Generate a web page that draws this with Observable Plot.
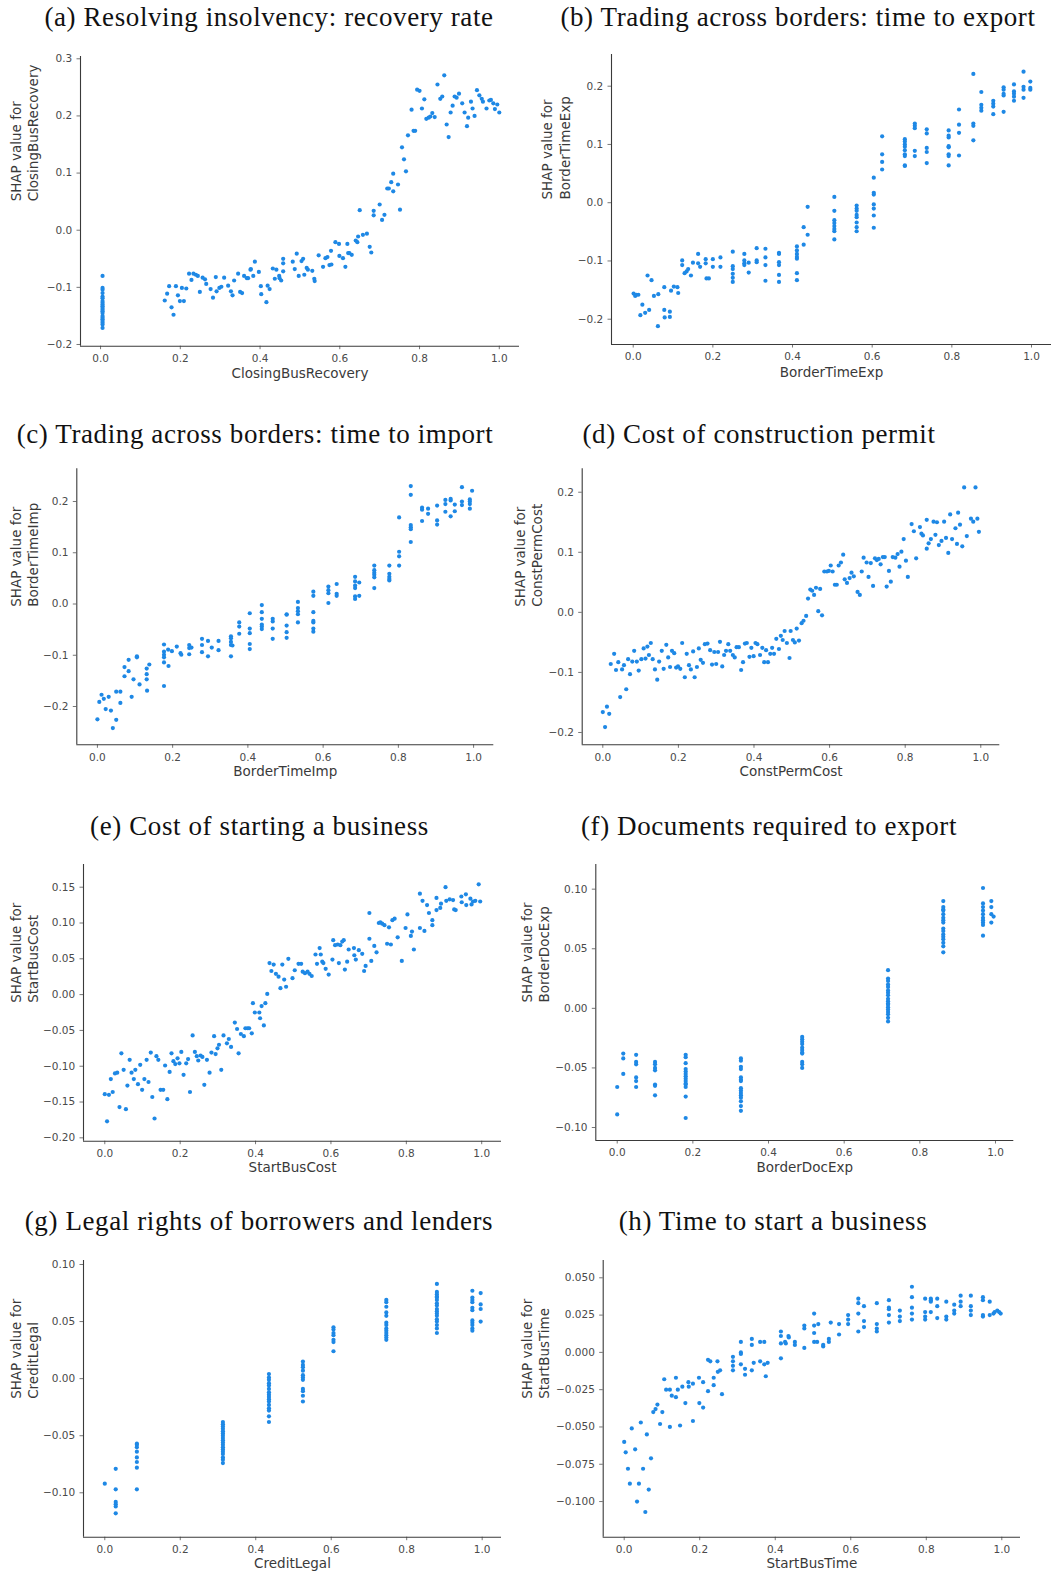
<!DOCTYPE html>
<html><head><meta charset="utf-8">
<script src="https://cdn.jsdelivr.net/npm/d3@7"></script>
<script src="https://cdn.jsdelivr.net/npm/@observablehq/plot@0.6"></script>
<style>
html,body{margin:0;padding:0;background:#fff;}
#page{position:relative;width:1062px;height:1573px;overflow:hidden;background:#fff;}
#page svg{position:absolute;}
</style></head><body><div id="page"></div>
<script>
// ---------- DATA ----------
const titles = ["(a) Resolving insolvency: recovery rate","(b) Trading across borders: time to export","(c) Trading across borders: time to import","(d) Cost of construction permit","(e) Cost of starting a business","(f) Documents required to export","(g) Legal rights of borrowers and lenders","(h) Time to start a business"];
const features = ["ClosingBusRecovery","BorderTimeExp","BorderTimeImp","ConstPermCost","StartBusCost","BorderDocExp","CreditLegal","StartBusTime"];
const xTicks = [0, 0.2, 0.4, 0.6, 0.8, 1.0];
const yTicks1 = [-0.2, -0.1, 0, 0.1, 0.2, 0.3];
const yTicks2 = [-0.2, -0.1, 0, 0.1, 0.2];
const yTicksE = [-0.2, -0.15, -0.1, -0.05, 0, 0.05, 0.1, 0.15];
const yTicksFG = [-0.1, -0.05, 0, 0.05, 0.1];
const yTicksH = [-0.1, -0.075, -0.05, -0.025, 0, 0.025, 0.05];

const ptsA = [[0.005,-0.080],[0.005,-0.101],[0.005,-0.104],[0.005,-0.110],[0.005,-0.116],[0.005,-0.119],[0.005,-0.124],[0.005,-0.127],[0.005,-0.130],[0.005,-0.133],[0.005,-0.136],[0.005,-0.139],[0.005,-0.142],[0.005,-0.145],[0.005,-0.150],[0.005,-0.153],[0.005,-0.156],[0.005,-0.159],[0.005,-0.162],[0.005,-0.165],[0.005,-0.171],
[0.161,-0.123],[0.167,-0.111],[0.172,-0.098],[0.178,-0.135],[0.183,-0.148],[0.189,-0.098],[0.194,-0.114],[0.199,-0.124],[0.204,-0.101],[0.209,-0.124],[0.215,-0.102],[0.222,-0.076],[0.228,-0.087],[0.233,-0.076],[0.239,-0.078],[0.244,-0.080],[0.249,-0.108],[0.256,-0.083],[0.262,-0.086],[0.265,-0.094],[0.276,-0.103],[0.282,-0.118],[0.289,-0.082],[0.291,-0.107],[0.298,-0.101],[0.303,-0.099],[0.310,-0.083],[0.320,-0.097],[0.327,-0.107],[0.331,-0.114],[0.335,-0.088],[0.345,-0.076],[0.350,-0.108],[0.355,-0.110],[0.360,-0.080],[0.367,-0.084],[0.370,-0.084],[0.376,-0.069],[0.377,-0.068],[0.383,-0.080],[0.387,-0.055],[0.397,-0.073],[0.402,-0.098],[0.403,-0.112],[0.416,-0.126],[0.419,-0.097],[0.424,-0.103],[0.432,-0.067],[0.437,-0.085],[0.441,-0.069],[0.448,-0.080],[0.449,-0.084],[0.453,-0.088],[0.458,-0.050],[0.458,-0.058],[0.458,-0.072],[0.482,-0.055],[0.487,-0.068],[0.492,-0.041],[0.497,-0.080],[0.504,-0.054],[0.508,-0.050],[0.511,-0.078],[0.517,-0.066],[0.520,-0.069],[0.531,-0.071],[0.536,-0.085],[0.537,-0.089],[0.547,-0.044],[0.558,-0.064],[0.564,-0.049],[0.569,-0.047],[0.574,-0.061],[0.578,-0.036],[0.579,-0.060],[0.589,-0.021],[0.598,-0.024],[0.599,-0.045],[0.608,-0.049],[0.614,-0.064],[0.619,-0.024],[0.621,-0.040],[0.624,-0.040],[0.630,-0.043],[0.640,-0.018],[0.644,-0.021],[0.646,-0.011],[0.650,0.035],[0.658,-0.008],[0.668,-0.006],[0.675,-0.029],[0.679,-0.039],[0.685,0.034],[0.685,0.026],[0.700,0.045],[0.706,0.018],[0.712,0.027],[0.719,0.073],[0.723,0.073],[0.729,0.084],[0.734,0.099],[0.734,0.068],[0.746,0.080],[0.751,0.036],[0.756,0.145],[0.761,0.124],[0.766,0.103],[0.771,0.166],[0.780,0.211],[0.785,0.174],[0.789,0.174],[0.794,0.246],[0.800,0.244],[0.806,0.213],[0.812,0.229],[0.817,0.195],[0.823,0.197],[0.827,0.199],[0.832,0.205],[0.838,0.198],[0.845,0.255],[0.852,0.230],[0.857,0.234],[0.862,0.271],[0.868,0.185],[0.873,0.163],[0.878,0.206],[0.883,0.218],[0.888,0.234],[0.893,0.232],[0.899,0.239],[0.907,0.222],[0.913,0.206],[0.919,0.182],[0.922,0.197],[0.929,0.225],[0.933,0.213],[0.938,0.200],[0.944,0.245],[0.950,0.236],[0.956,0.230],[0.959,0.225],[0.968,0.213],[0.975,0.227],[0.979,0.228],[0.985,0.222],[0.989,0.212],[0.995,0.220],[1.000,0.206]];

const ptsB = [[0.001,-0.156],[0.005,-0.160],[0.008,-0.158],[0.013,-0.158],[0.018,-0.193],[0.023,-0.175],[0.030,-0.189],[0.036,-0.125],[0.040,-0.184],[0.046,-0.133],[0.052,-0.160],[0.062,-0.212],[0.063,-0.157],[0.078,-0.145],[0.078,-0.184],[0.079,-0.197],[0.092,-0.187],[0.092,-0.196],[0.095,-0.151],[0.102,-0.144],[0.111,-0.145],[0.113,-0.155],[0.123,-0.099],[0.123,-0.107],[0.129,-0.121],[0.134,-0.118],[0.138,-0.114],[0.145,-0.125],[0.150,-0.103],[0.163,-0.088],[0.163,-0.104],[0.168,-0.110],[0.182,-0.097],[0.182,-0.104],[0.184,-0.130],[0.190,-0.130],[0.200,-0.097],[0.200,-0.110],[0.219,-0.094],[0.219,-0.110],[0.250,-0.084],[0.250,-0.109],[0.250,-0.114],[0.250,-0.122],[0.250,-0.129],[0.250,-0.136],[0.279,-0.088],[0.279,-0.099],[0.279,-0.104],[0.279,-0.107],[0.290,-0.103],[0.290,-0.120],[0.310,-0.078],[0.310,-0.099],[0.310,-0.102],[0.332,-0.079],[0.332,-0.094],[0.332,-0.107],[0.332,-0.134],[0.366,-0.086],[0.366,-0.088],[0.366,-0.102],[0.366,-0.107],[0.366,-0.124],[0.366,-0.136],[0.411,-0.075],[0.411,-0.082],[0.411,-0.088],[0.411,-0.093],[0.411,-0.096],[0.411,-0.121],[0.411,-0.133],[0.428,-0.042],[0.428,-0.072],[0.438,-0.007],[0.438,-0.055],[0.505,0.010],[0.505,-0.014],[0.505,-0.030],[0.505,-0.035],[0.505,-0.040],[0.505,-0.045],[0.505,-0.049],[0.505,-0.063],[0.561,-0.005],[0.561,-0.010],[0.561,-0.014],[0.561,-0.021],[0.561,-0.025],[0.561,-0.034],[0.561,-0.042],[0.561,-0.049],[0.604,0.043],[0.604,0.017],[0.604,0.014],[0.604,-0.003],[0.604,-0.010],[0.604,-0.022],[0.604,-0.043],[0.625,0.114],[0.625,0.083],[0.625,0.070],[0.625,0.057],[0.682,0.109],[0.682,0.105],[0.682,0.100],[0.682,0.096],[0.682,0.090],[0.682,0.083],[0.682,0.080],[0.682,0.064],[0.682,0.063],[0.707,0.136],[0.707,0.132],[0.707,0.128],[0.707,0.089],[0.707,0.080],[0.737,0.126],[0.737,0.119],[0.737,0.094],[0.737,0.087],[0.737,0.068],[0.792,0.124],[0.792,0.115],[0.792,0.112],[0.792,0.097],[0.792,0.095],[0.792,0.083],[0.792,0.080],[0.792,0.064],[0.818,0.160],[0.818,0.134],[0.818,0.120],[0.818,0.081],[0.854,0.221],[0.854,0.136],[0.854,0.132],[0.854,0.107],[0.874,0.190],[0.874,0.168],[0.874,0.163],[0.874,0.158],[0.904,0.175],[0.904,0.170],[0.904,0.165],[0.904,0.152],[0.930,0.198],[0.930,0.194],[0.930,0.187],[0.930,0.184],[0.930,0.156],[0.956,0.203],[0.956,0.191],[0.956,0.187],[0.956,0.182],[0.956,0.175],[0.980,0.225],[0.980,0.199],[0.980,0.194],[0.980,0.180],[0.997,0.208],[0.997,0.197],[0.997,0.194]];

const ptsC = [[0.000,-0.225],[0.005,-0.191],[0.011,-0.177],[0.017,-0.185],[0.022,-0.205],[0.030,-0.181],[0.036,-0.208],[0.041,-0.242],[0.050,-0.171],[0.050,-0.226],[0.061,-0.171],[0.061,-0.193],[0.072,-0.123],[0.072,-0.141],[0.083,-0.109],[0.083,-0.131],[0.091,-0.181],[0.096,-0.147],[0.105,-0.102],[0.105,-0.104],[0.112,-0.157],[0.131,-0.126],[0.131,-0.137],[0.131,-0.147],[0.132,-0.169],[0.138,-0.118],[0.177,-0.079],[0.177,-0.093],[0.177,-0.099],[0.177,-0.104],[0.177,-0.114],[0.177,-0.160],[0.188,-0.089],[0.189,-0.121],[0.198,-0.092],[0.211,-0.083],[0.221,-0.096],[0.223,-0.099],[0.244,-0.080],[0.244,-0.086],[0.244,-0.098],[0.250,-0.085],[0.278,-0.068],[0.278,-0.080],[0.278,-0.094],[0.294,-0.072],[0.294,-0.102],[0.304,-0.085],[0.322,-0.072],[0.322,-0.090],[0.355,-0.063],[0.355,-0.067],[0.355,-0.074],[0.355,-0.080],[0.355,-0.102],[0.359,-0.081],[0.377,-0.036],[0.377,-0.044],[0.377,-0.058],[0.405,-0.018],[0.405,-0.048],[0.405,-0.057],[0.405,-0.078],[0.405,-0.088],[0.437,-0.002],[0.437,-0.016],[0.437,-0.029],[0.437,-0.040],[0.437,-0.044],[0.437,-0.049],[0.466,-0.029],[0.466,-0.034],[0.466,-0.048],[0.466,-0.068],[0.503,-0.020],[0.503,-0.021],[0.503,-0.042],[0.503,-0.055],[0.503,-0.066],[0.533,0.004],[0.533,-0.008],[0.533,-0.014],[0.533,-0.020],[0.533,-0.036],[0.574,0.024],[0.574,0.016],[0.574,-0.016],[0.574,-0.033],[0.574,-0.036],[0.574,-0.048],[0.574,-0.054],[0.614,0.034],[0.614,0.027],[0.614,0.021],[0.614,0.002],[0.636,0.039],[0.636,0.020],[0.636,0.016],[0.685,0.053],[0.685,0.044],[0.685,0.036],[0.685,0.031],[0.685,0.015],[0.685,0.010],[0.696,0.042],[0.696,0.016],[0.736,0.075],[0.736,0.066],[0.736,0.061],[0.736,0.057],[0.736,0.052],[0.736,0.031],[0.776,0.075],[0.776,0.059],[0.776,0.053],[0.776,0.049],[0.776,0.046],[0.802,0.169],[0.802,0.102],[0.802,0.093],[0.802,0.075],[0.833,0.230],[0.833,0.213],[0.833,0.154],[0.833,0.150],[0.833,0.146],[0.833,0.121],[0.863,0.188],[0.863,0.184],[0.863,0.162],[0.879,0.186],[0.879,0.176],[0.903,0.192],[0.903,0.163],[0.903,0.155],[0.925,0.203],[0.925,0.195],[0.925,0.180],[0.939,0.205],[0.939,0.202],[0.939,0.171],[0.950,0.194],[0.950,0.181],[0.969,0.228],[0.969,0.200],[0.969,0.193],[0.990,0.204],[0.990,0.200],[0.990,0.195],[0.990,0.186],[0.996,0.221]];

const ptsD = [[0.000,-0.166],[0.006,-0.191],[0.011,-0.157],[0.017,-0.169],[0.021,-0.086],[0.030,-0.069],[0.035,-0.096],[0.041,-0.083],[0.046,-0.141],[0.051,-0.095],[0.056,-0.088],[0.062,-0.128],[0.067,-0.078],[0.072,-0.103],[0.078,-0.082],[0.083,-0.064],[0.090,-0.082],[0.095,-0.097],[0.102,-0.078],[0.108,-0.060],[0.113,-0.077],[0.118,-0.057],[0.122,-0.071],[0.127,-0.051],[0.132,-0.078],[0.138,-0.095],[0.144,-0.112],[0.149,-0.082],[0.156,-0.064],[0.161,-0.094],[0.168,-0.054],[0.173,-0.075],[0.178,-0.091],[0.183,-0.064],[0.189,-0.068],[0.194,-0.092],[0.199,-0.090],[0.205,-0.094],[0.210,-0.051],[0.217,-0.108],[0.222,-0.069],[0.228,-0.088],[0.233,-0.095],[0.239,-0.065],[0.243,-0.108],[0.249,-0.091],[0.254,-0.060],[0.259,-0.079],[0.265,-0.084],[0.270,-0.053],[0.277,-0.052],[0.284,-0.063],[0.289,-0.087],[0.295,-0.066],[0.300,-0.086],[0.305,-0.066],[0.310,-0.049],[0.316,-0.090],[0.321,-0.071],[0.326,-0.064],[0.332,-0.053],[0.337,-0.064],[0.344,-0.071],[0.349,-0.075],[0.354,-0.058],[0.360,-0.058],[0.366,-0.096],[0.371,-0.083],[0.376,-0.052],[0.381,-0.051],[0.388,-0.074],[0.393,-0.059],[0.399,-0.073],[0.404,-0.051],[0.409,-0.053],[0.416,-0.071],[0.422,-0.059],[0.427,-0.083],[0.432,-0.063],[0.437,-0.083],[0.443,-0.069],[0.448,-0.059],[0.453,-0.069],[0.459,-0.044],[0.466,-0.061],[0.471,-0.039],[0.476,-0.046],[0.481,-0.031],[0.487,-0.051],[0.494,-0.076],[0.497,-0.031],[0.503,-0.046],[0.508,-0.050],[0.513,-0.027],[0.519,-0.047],[0.526,-0.018],[0.531,-0.014],[0.538,-0.006],[0.543,0.023],[0.549,0.038],[0.554,0.036],[0.559,0.029],[0.564,0.041],[0.570,0.002],[0.575,0.039],[0.580,-0.005],[0.586,0.068],[0.593,0.068],[0.598,0.069],[0.603,0.078],[0.608,0.068],[0.614,0.046],[0.619,0.046],[0.624,0.078],[0.630,0.083],[0.636,0.096],[0.640,0.055],[0.646,0.049],[0.653,0.057],[0.658,0.066],[0.664,0.060],[0.674,0.034],[0.680,0.029],[0.685,0.068],[0.690,0.091],[0.698,0.083],[0.703,0.059],[0.709,0.082],[0.715,0.044],[0.720,0.090],[0.725,0.087],[0.730,0.089],[0.735,0.080],[0.741,0.092],[0.746,0.092],[0.751,0.043],[0.757,0.069],[0.762,0.051],[0.767,0.092],[0.774,0.091],[0.780,0.097],[0.785,0.076],[0.790,0.101],[0.796,0.122],[0.802,0.086],[0.807,0.059],[0.817,0.147],[0.823,0.135],[0.829,0.090],[0.839,0.142],[0.843,0.131],[0.847,0.128],[0.857,0.154],[0.857,0.106],[0.862,0.115],[0.868,0.122],[0.875,0.151],[0.880,0.129],[0.884,0.150],[0.889,0.112],[0.896,0.119],[0.903,0.151],[0.908,0.124],[0.914,0.099],[0.919,0.163],[0.924,0.122],[0.933,0.140],[0.937,0.114],[0.940,0.166],[0.945,0.146],[0.951,0.110],[0.956,0.208],[0.963,0.127],[0.974,0.156],[0.980,0.151],[0.986,0.208],[0.991,0.156],[0.995,0.134]];

const ptsE = [[0.000,-0.139],[0.006,-0.177],[0.011,-0.140],[0.016,-0.118],[0.021,-0.136],[0.027,-0.110],[0.033,-0.109],[0.039,-0.157],[0.044,-0.082],[0.050,-0.105],[0.056,-0.160],[0.060,-0.127],[0.066,-0.091],[0.071,-0.109],[0.077,-0.118],[0.081,-0.105],[0.088,-0.125],[0.094,-0.098],[0.099,-0.133],[0.105,-0.118],[0.111,-0.091],[0.116,-0.122],[0.122,-0.081],[0.126,-0.143],[0.132,-0.173],[0.137,-0.086],[0.142,-0.091],[0.148,-0.133],[0.155,-0.133],[0.160,-0.099],[0.166,-0.146],[0.172,-0.108],[0.177,-0.082],[0.182,-0.093],[0.187,-0.097],[0.193,-0.089],[0.198,-0.096],[0.203,-0.080],[0.209,-0.112],[0.216,-0.096],[0.221,-0.090],[0.226,-0.136],[0.233,-0.057],[0.239,-0.080],[0.244,-0.086],[0.248,-0.092],[0.254,-0.085],[0.259,-0.087],[0.264,-0.126],[0.271,-0.091],[0.278,-0.109],[0.283,-0.081],[0.290,-0.058],[0.294,-0.083],[0.299,-0.075],[0.303,-0.070],[0.309,-0.105],[0.315,-0.057],[0.324,-0.068],[0.329,-0.062],[0.335,-0.073],[0.345,-0.039],[0.351,-0.048],[0.355,-0.082],[0.361,-0.055],[0.369,-0.058],[0.373,-0.047],[0.379,-0.047],[0.383,-0.047],[0.390,-0.054],[0.393,-0.012],[0.398,-0.025],[0.410,-0.025],[0.412,-0.033],[0.416,-0.016],[0.422,-0.043],[0.426,-0.012],[0.431,0.001],[0.437,0.044],[0.442,0.033],[0.448,0.042],[0.454,0.029],[0.461,0.025],[0.466,0.009],[0.471,0.042],[0.476,0.021],[0.481,0.011],[0.487,0.050],[0.498,0.023],[0.504,0.034],[0.514,0.043],[0.521,0.043],[0.525,0.032],[0.531,0.030],[0.538,0.032],[0.543,0.029],[0.549,0.026],[0.559,0.056],[0.563,0.043],[0.570,0.065],[0.573,0.056],[0.577,0.046],[0.580,0.044],[0.586,0.036],[0.594,0.028],[0.604,0.049],[0.606,0.076],[0.611,0.069],[0.618,0.070],[0.621,0.044],[0.625,0.069],[0.630,0.074],[0.634,0.076],[0.637,0.035],[0.643,0.046],[0.647,0.063],[0.661,0.065],[0.662,0.055],[0.666,0.049],[0.674,0.062],[0.683,0.057],[0.688,0.033],[0.692,0.040],[0.702,0.114],[0.702,0.078],[0.707,0.047],[0.715,0.068],[0.721,0.059],[0.727,0.100],[0.731,0.101],[0.736,0.099],[0.742,0.097],[0.749,0.071],[0.754,0.094],[0.759,0.070],[0.763,0.104],[0.769,0.106],[0.777,0.080],[0.788,0.047],[0.798,0.093],[0.803,0.112],[0.812,0.082],[0.815,0.088],[0.820,0.063],[0.836,0.141],[0.836,0.093],[0.843,0.131],[0.848,0.089],[0.855,0.125],[0.860,0.114],[0.869,0.104],[0.869,0.097],[0.880,0.135],[0.880,0.118],[0.890,0.121],[0.892,0.127],[0.904,0.150],[0.906,0.131],[0.915,0.133],[0.924,0.132],[0.927,0.119],[0.931,0.118],[0.946,0.137],[0.947,0.129],[0.958,0.140],[0.959,0.125],[0.970,0.134],[0.973,0.126],[0.977,0.130],[0.983,0.131],[0.992,0.154],[0.996,0.130]];

// (f) discrete feature values and SHAP values per value
const colsF = [0.000, 0.016, 0.050, 0.100, 0.181, 0.327, 0.489, 0.716, 0.862, 0.967, 0.989, 0.995];
const valsF = [
 [-0.066,-0.089],
 [-0.038,-0.042,-0.055],
 [-0.039,-0.045,-0.047,-0.058,-0.061,-0.066],
 [-0.045,-0.047,-0.050,-0.052,-0.064,-0.065,-0.073],
 [-0.039,-0.041,-0.046,-0.051,-0.053,-0.055,-0.057,-0.059,-0.061,-0.063,-0.064,-0.066,-0.074,-0.092],
 [-0.042,-0.044,-0.049,-0.051,-0.058,-0.060,-0.061,-0.067,-0.069,-0.071,-0.073,-0.075,-0.078,-0.082,-0.086],
 [-0.024,-0.026,-0.028,-0.030,-0.033,-0.035,-0.037,-0.038,-0.045,-0.047,-0.050],
 [0.032,0.025,0.023,0.020,0.018,0.015,0.013,0.011,0.008,0.006,0.004,0.003,0.001,-0.001,-0.003,-0.005,-0.008,-0.011],
 [0.090,0.085,0.083,0.082,0.079,0.076,0.074,0.072,0.067,0.065,0.062,0.060,0.058,0.055,0.052,0.047],
 [0.101,0.088,0.085,0.082,0.079,0.076,0.074,0.072,0.070,0.061],
 [0.090,0.085,0.079,0.072],
 [0.077]
];

// (g) discrete feature values and SHAP values per value
const colsG = [0.000, 0.029, 0.085, 0.313, 0.435, 0.525, 0.606, 0.746, 0.880, 0.974, 0.996];
const valsG = [
 [-0.092],
 [-0.079,-0.097,-0.108,-0.110,-0.112,-0.118],
 [-0.057,-0.058,-0.060,-0.064,-0.069,-0.073,-0.078,-0.097],
 [-0.038,-0.040,-0.042,-0.044,-0.046,-0.048,-0.050,-0.052,-0.054,-0.056,-0.058,-0.060,-0.062,-0.064,-0.066,-0.069,-0.071,-0.074],
 [0.004,0.001,-0.001,-0.004,-0.006,-0.009,-0.012,-0.014,-0.016,-0.018,-0.020,-0.023,-0.026,-0.028,-0.033,-0.038],
 [0.015,0.012,0.010,0.007,0.003,0.001,-0.001,-0.009,-0.011,-0.015,-0.020],
 [0.045,0.043,0.040,0.038,0.034,0.032,0.024],
 [0.069,0.067,0.063,0.058,0.055,0.049,0.047,0.044,0.042,0.040,0.038,0.036,0.034],
 [0.083,0.076,0.074,0.072,0.071,0.069,0.066,0.064,0.061,0.059,0.057,0.055,0.052,0.050,0.047,0.044,0.040],
 [0.077,0.071,0.069,0.067,0.062,0.060,0.051,0.049,0.047,0.044,0.042],
 [0.075,0.065,0.061,0.050]
];

const ptsH = [[0.000,-0.060],[0.004,-0.067],[0.010,-0.078],[0.015,-0.088],[0.020,-0.051],[0.029,-0.065],[0.034,-0.100],[0.039,-0.088],[0.044,-0.047],[0.050,-0.078],[0.056,-0.107],[0.060,-0.055],[0.065,-0.092],[0.071,-0.071],[0.077,-0.040],[0.083,-0.038],[0.088,-0.035],[0.095,-0.048],[0.101,-0.040],[0.106,-0.018],[0.111,-0.025],[0.121,-0.025],[0.121,-0.050],[0.126,-0.029],[0.137,-0.017],[0.137,-0.030],[0.142,-0.025],[0.148,-0.049],[0.154,-0.023],[0.162,-0.034],[0.170,-0.020],[0.171,-0.023],[0.182,-0.021],[0.182,-0.046],[0.198,-0.017],[0.199,-0.034],[0.209,-0.020],[0.209,-0.037],[0.222,-0.005],[0.222,-0.026],[0.228,-0.006],[0.237,-0.022],[0.237,-0.017],[0.247,-0.006],[0.248,-0.013],[0.254,-0.012],[0.259,-0.028],[0.288,-0.003],[0.288,-0.006],[0.288,-0.009],[0.288,-0.012],[0.309,0.007],[0.309,0.000],[0.309,-0.001],[0.309,-0.008],[0.320,-0.011],[0.320,-0.015],[0.338,0.009],[0.338,0.005],[0.338,-0.012],[0.343,-0.007],[0.360,0.007],[0.360,-0.006],[0.371,0.007],[0.371,-0.008],[0.380,-0.007],[0.375,-0.016],[0.415,-0.004],[0.415,0.006],[0.415,0.011],[0.415,0.014],[0.426,0.007],[0.428,0.006],[0.435,0.011],[0.436,0.010],[0.452,0.007],[0.452,0.005],[0.477,0.018],[0.477,0.016],[0.477,0.003],[0.503,0.026],[0.503,0.018],[0.503,0.013],[0.503,0.007],[0.511,0.007],[0.514,0.019],[0.527,0.005],[0.527,0.004],[0.542,0.009],[0.542,0.007],[0.547,0.020],[0.569,0.019],[0.569,0.012],[0.593,0.025],[0.593,0.022],[0.593,0.019],[0.620,0.036],[0.620,0.033],[0.620,0.026],[0.620,0.014],[0.635,0.031],[0.635,0.021],[0.635,0.017],[0.669,0.033],[0.669,0.019],[0.669,0.016],[0.669,0.014],[0.701,0.035],[0.701,0.030],[0.701,0.029],[0.701,0.025],[0.701,0.020],[0.730,0.028],[0.730,0.024],[0.730,0.021],[0.762,0.044],[0.762,0.037],[0.762,0.030],[0.762,0.026],[0.762,0.022],[0.797,0.036],[0.797,0.027],[0.797,0.024],[0.797,0.022],[0.812,0.036],[0.812,0.035],[0.812,0.034],[0.812,0.027],[0.829,0.036],[0.829,0.031],[0.829,0.023],[0.853,0.034],[0.853,0.024],[0.853,0.022],[0.874,0.032],[0.874,0.028],[0.874,0.026],[0.891,0.038],[0.891,0.034],[0.891,0.031],[0.918,0.038],[0.918,0.031],[0.918,0.028],[0.918,0.025],[0.950,0.037],[0.950,0.035],[0.950,0.025],[0.950,0.024],[0.968,0.034],[0.968,0.025],[0.978,0.026],[0.981,0.027],[0.988,0.028],[0.993,0.027],[0.997,0.026]];

// ---------- BUILD TABLES ----------
const fromCols = (cols, vals) => cols.flatMap((c, i) => vals[i].map(v => [c, v]));
const ptsF = fromCols(colsF, valsF);
const ptsG = fromCols(colsG, valsG);

// ---------- LAYOUT (page pixel geometry) ----------
// box: svg [left, top, width, height]; frame: [xLeft, xRight, yTop, yBottom]
const layout = [
 {pts: ptsA, yTicks: yTicks1, yFmt: ".1f", box:[0,40,531,350],  frame:[80,519,56,345.7],      xd:[-0.0503,1.0507], yd:[-0.203,0.304],  xly:373,   ylx:23.5, tx:269,   tb:26},
 {pts: ptsB, yTicks: yTicks2, yFmt: ".1f", box:[500,40,562,350],frame:[611,1051,54,344],      xd:[-0.0545,1.0502], yd:[-0.2434,0.2544],xly:372.5, ylx:555,  tx:798,   tb:26},
 {pts: ptsC, yTicks: yTicks2, yFmt: ".1f", box:[0,450,531,340], frame:[76.3,493.3,468.3,744.3],xd:[-0.0548,1.0537], yd:[-0.2747,0.2638],xly:771.5, ylx:23.5, tx:255,   tb:442.5},
 {pts: ptsD, yTicks: yTicks2, yFmt: ".1f", box:[500,450,562,340],frame:[581.7,999.3,468.3,744.3],xd:[-0.0545,1.0503],yd:[-0.2205,0.2390],xly:771.5, ylx:527.5,tx:759,   tb:442.5},
 {pts: ptsE, yTicks: yTicksE, yFmt: ".2f", box:[0,850,531,330], frame:[83,501,864,1140.7],    xd:[-0.0565,1.0525], yd:[-0.2047,0.1817],xly:1167,  ylx:23.5, tx:259.5, tb:835},
 {pts: ptsF, yTicks: yTicksFG, yFmt: ".2f", box:[500,850,562,330],frame:[595.3,1013.3,864,1140],xd:[-0.0566,1.0484],yd:[-0.1109,0.1207],xly:1167,  ylx:534.5,tx:769,   tb:835},
 {pts: ptsG, yTicks: yTicksFG, yFmt: ".2f", box:[0,1245,531,328],frame:[83,501,1260,1536.7],  xd:[-0.0564,1.0512], yd:[-0.1389,0.1035],xly:1563,  ylx:23.5, tx:259,   tb:1230},
 {pts: ptsH, yTicks: yTicksH, yFmt: ".3f", box:[500,1245,562,328],frame:[602.7,1020,1260,1536.7],xd:[-0.0556,1.0495],yd:[-0.1239,0.0616],xly:1563, ylx:534.5,tx:773,   tb:1230}
];

const page = document.getElementById("page");
const xFmt = d3.format(".1f");

layout.forEach((p, i) => {
  const [L, T, W, H] = p.box;
  const [fx0, fx1, fy0, fy1] = p.frame;
  const yFmt = d3.format(p.yFmt);
  const feat = features[i];
  const chart = Plot.plot({
    width: W, height: H,
    marginLeft: fx0 - L, marginRight: L + W - fx1,
    marginTop: fy0 - T, marginBottom: T + H - fy1,
    x: {domain: p.xd},
    y: {domain: p.yd},
    style: {fontFamily: "'DejaVu Sans', sans-serif", color: "#4a4a4a", background: "transparent", overflow: "visible"},
    marks: [
      Plot.axisX({ticks: xTicks, tickFormat: xFmt, tickSize: 3.5, tickPadding: 5, fontSize: 10.5, label: null, stroke: "#777", fill: "#4a4a4a"}),
      Plot.axisY({ticks: p.yTicks, tickFormat: yFmt, tickSize: 3.5, tickPadding: 4.8, fontSize: 10.5, label: null, stroke: "#777", fill: "#4a4a4a"}),
      Plot.ruleX([p.xd[0]], {stroke: "#3a3a3a", strokeWidth: 1.1}),
      Plot.ruleY([p.yd[0]], {stroke: "#3a3a3a", strokeWidth: 1.1}),
      Plot.dot(p.pts, {x: d => d[0], y: d => d[1], r: 2.1, fill: "#1E88E5", stroke: null}),
      Plot.text([feat], {frameAnchor: "bottom", lineAnchor: "middle", dy: p.xly - fy1, fontSize: 13.5, fill: "#3a3a3a"}),
      Plot.text(["SHAP value for\n" + feat], {frameAnchor: "left", lineAnchor: "middle", dx: p.ylx - fx0, rotate: -90, fontSize: 13.5, lineHeight: 1.28, fill: "#3a3a3a"})
    ]
  });
  chart.style.left = L + "px";
  chart.style.top = T + "px";
  chart.style.maxWidth = "none";
  page.appendChild(chart);
});

// titles (LaTeX-style subcaptions)
const ov = d3.select(page).append("svg")
  .attr("width", 1062).attr("height", 1573)
  .style("left", "0px").style("top", "0px").style("pointer-events", "none");
ov.selectAll("text").data(layout).join("text")
  .attr("x", d => d.tx).attr("y", d => d.tb)
  .attr("text-anchor", "middle")
  .attr("font-family", "'Liberation Serif', 'Times New Roman', serif")
  .attr("font-size", 27)
  .attr("letter-spacing", 0.6)
  .attr("fill", "#111")
  .text((d, i) => titles[i]);
</script>
</body></html>
